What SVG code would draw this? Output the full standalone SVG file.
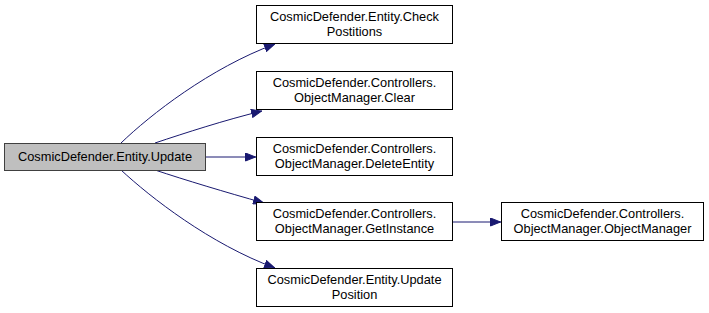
<svg xmlns="http://www.w3.org/2000/svg" width="709" height="313" viewBox="0 0 709 313">
  <style>
    .node rect { fill: #ffffff; stroke: #000000; stroke-width: 1; }
    .node.current rect { fill: #bfbfbf; stroke: #404040; }
    .node text { font-family: "Liberation Sans", Arial, sans-serif; font-size: 12.8px; fill: #000000; text-anchor: middle; }
    .edge { fill: none; stroke: #191970; stroke-width: 1; marker-end: url(#arrow); }
  </style>
  <defs>
    <marker id="arrow" viewBox="0 0 11 9" refX="11" refY="4.5" markerWidth="11" markerHeight="9" markerUnits="userSpaceOnUse" orient="auto">
      <path d="M0.5,0.5 L10.5,4.5 L0.5,8.5 Z" fill="#191970" stroke="#191970"/>
    </marker>
  </defs>

  <g id="connectors">
    <path class="edge" d="M121,143 C150,115 210,68 275,44"/>
    <path class="edge" d="M155,143 C185,133 225,120 262,111"/>
    <path class="edge" d="M206,157 L256,157"/>
    <path class="edge" d="M155,170 C185,180 225,192 264,203"/>
    <path class="edge" d="M121,170 C150,197 210,244 275,268"/>
    <path class="edge" d="M453,222 L501,222"/>
  </g>

  <g id="node-update" class="node current">
    <rect x="4.5" y="143.5" width="201" height="27"/>
    <text x="105" y="161">CosmicDefender.Entity.Update</text>
  </g>

  <g id="node-check-positions" class="node">
    <rect x="256.5" y="5.5" width="196" height="38"/>
    <text x="354.5" y="21">CosmicDefender.Entity.Check</text>
    <text x="354.5" y="36">Postitions</text>
  </g>

  <g id="node-clear" class="node">
    <rect x="256.5" y="71.5" width="196" height="38"/>
    <text x="354.5" y="87">CosmicDefender.Controllers.</text>
    <text x="354.5" y="102">ObjectManager.Clear</text>
  </g>

  <g id="node-delete-entity" class="node">
    <rect x="256.5" y="137.5" width="196" height="38"/>
    <text x="354.5" y="153">CosmicDefender.Controllers.</text>
    <text x="354.5" y="168">ObjectManager.DeleteEntity</text>
  </g>

  <g id="node-get-instance" class="node">
    <rect x="256.5" y="202.5" width="196" height="38"/>
    <text x="354.5" y="218">CosmicDefender.Controllers.</text>
    <text x="354.5" y="233">ObjectManager.GetInstance</text>
  </g>

  <g id="node-update-position" class="node">
    <rect x="256.5" y="268.5" width="196" height="38"/>
    <text x="354.5" y="284">CosmicDefender.Entity.Update</text>
    <text x="354.5" y="299">Position</text>
  </g>

  <g id="node-object-manager" class="node">
    <rect x="501.5" y="202.5" width="202" height="38"/>
    <text x="602.5" y="218">CosmicDefender.Controllers.</text>
    <text x="602.5" y="233">ObjectManager.ObjectManager</text>
  </g>
</svg>
